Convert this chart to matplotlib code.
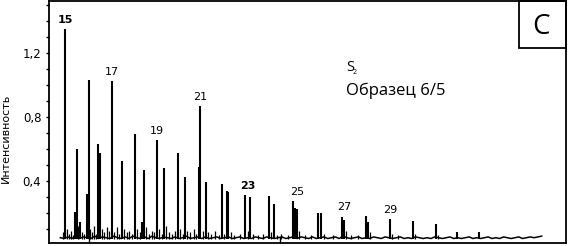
import numpy as np
import matplotlib
matplotlib.use("Agg")
import matplotlib.pyplot as plt
from matplotlib.patches import Rectangle
from matplotlib.ticker import FixedLocator, FuncFormatter

plt.rcParams['font.family'] = ['DejaVu Sans']

# ---- data (retention time, min / intensity) ----
peak_rt = [8.743, 9.267, 9.372, 9.529, 9.911, 9.984, 10.487, 10.576, 11.204,
           11.728, 12.393, 12.759, 12.864, 13.545, 13.942, 14.644, 15.010,
           15.743, 15.812, 16.110, 16.963, 17.225, 17.293, 18.152, 18.429,
           19.408, 19.670, 20.696, 20.770, 20.890, 21.974, 22.147, 23.262,
           23.335, 24.518, 24.592, 25.759, 26.948, 28.152, 29.283, 30.403]
peak_h = [1.353, 0.206, 0.600, 0.145, 0.319, 1.033, 0.632, 0.576, 1.027,
          0.526, 0.695, 0.145, 0.469, 0.657, 0.482, 0.576, 0.425,
          0.488, 0.870, 0.394, 0.382, 0.338, 0.331, 0.313, 0.302,
          0.306, 0.256, 0.277, 0.231, 0.225, 0.202, 0.202, 0.177,
          0.156, 0.183, 0.145, 0.164, 0.152, 0.131, 0.083, 0.079]

minor_rt = [8.62, 8.85, 8.95, 9.08, 9.18, 9.45, 9.62, 9.75, 10.05, 10.15,
            10.28, 10.38, 10.68, 10.80, 10.92, 11.05, 11.32, 11.45, 11.58,
            11.85, 11.98, 12.12, 12.25, 12.52, 12.65, 12.98, 13.12, 13.28,
            13.40, 13.68, 13.80, 14.05, 14.18, 14.32, 14.48, 14.78, 14.90,
            15.15, 15.30, 15.50, 15.62, 15.95, 16.25, 16.40, 16.60, 16.80,
            17.05, 17.45, 17.60, 17.90, 18.30, 18.60, 18.85, 19.10, 19.55,
            19.85, 20.05, 20.40, 20.98, 21.30, 21.60, 22.30, 22.80, 23.45,
            23.70, 24.10, 24.70, 25.85, 26.20, 27.05, 28.25]
minor_h = [0.08, 0.10, 0.07, 0.09, 0.06, 0.12, 0.08, 0.07, 0.10, 0.08,
           0.12, 0.07, 0.10, 0.08, 0.11, 0.09, 0.08, 0.11, 0.07,
           0.10, 0.08, 0.09, 0.07, 0.10, 0.08, 0.11, 0.07, 0.09,
           0.08, 0.10, 0.07, 0.12, 0.08, 0.07, 0.09, 0.10, 0.07,
           0.09, 0.08, 0.10, 0.07, 0.09, 0.08, 0.07, 0.09, 0.06,
           0.07, 0.08, 0.06, 0.07, 0.09, 0.07, 0.06, 0.07, 0.08,
           0.06, 0.07, 0.06, 0.09, 0.06, 0.06, 0.07, 0.06, 0.09,
           0.06, 0.06, 0.08, 0.07, 0.06, 0.07, 0.06]

base_start, base_end = 8.5, 33.7
base_level = [
    0.045, 0.04, 0.05, 0.04, 0.055, 0.04, 0.05, 0.045, 0.04, 0.055,
    0.04, 0.05, 0.045, 0.04, 0.055, 0.045, 0.04, 0.05, 0.04, 0.055,
    0.045, 0.04, 0.05, 0.04, 0.055, 0.045, 0.04, 0.05, 0.045, 0.04,
    0.05, 0.04, 0.045, 0.055, 0.04, 0.045, 0.05,
    0.04, 0.05, 0.04, 0.045, 0.05, 0.04, 0.045, 0.05, 0.04, 0.045,
    0.05, 0.04, 0.045, 0.04, 0.05, 0.045, 0.04, 0.05, 0.045, 0.04,
    0.045, 0.05, 0.04, 0.045,
    0.05, 0.04, 0.05, 0.045, 0.04, 0.05, 0.04, 0.045, 0.05, 0.04,
    0.045, 0.05, 0.04, 0.055, 0.045, 0.04, 0.045, 0.05, 0.04, 0.045,
    0.04, 0.05, 0.045, 0.04, 0.05, 0.045, 0.04, 0.045, 0.05, 0.04,
    0.045, 0.04, 0.05, 0.045, 0.04, 0.045, 0.04, 0.05, 0.045, 0.04,
    0.045, 0.05, 0.04, 0.045, 0.04, 0.045, 0.05, 0.04, 0.045, 0.04,
    0.045, 0.05, 0.04, 0.045, 0.04, 0.05, 0.045, 0.04, 0.045, 0.05,
    0.04, 0.045, 0.05, 0.045, 0.05, 0.055]
base_rt = np.linspace(base_start, base_end, len(base_level))

label_text = ["15", "17", "19", "21", "23", "25", "27", "29"]
label_rt = [8.743, 11.204, 13.545, 15.812, 18.29, 20.92, 23.35, 25.759]
label_top = [1.353, 1.027, 0.657, 0.870, 0.313, 0.277, 0.177, 0.164]
label_bold = [True, False, False, False, True, False, False, False]

yticks_major = [0.4, 0.8, 1.2]
yticks_minor = [0.1, 0.2, 0.3, 0.5, 0.6, 0.7, 0.9, 1.0, 1.1, 1.3, 1.4, 1.5]
xticks = [10, 20]

# ---- figure ----
W, H = 568, 246
fig = plt.figure(figsize=(W / 100, H / 100), dpi=100)
ax = fig.add_axes([49 / W, 2.7 / H, 517 / W, 242.3 / H])

ax.plot(base_rt, base_level, color='black', lw=1.1)
ax.vlines(minor_rt, 0.035, minor_h, color='black', lw=0.9)
ax.vlines(peak_rt, 0.035, peak_h, color='black', lw=1.5)

for t, x, top, b in zip(label_text, label_rt, label_top, label_bold):
    ax.annotate(t, (x, top), xytext=(0, 3), textcoords='offset points',
                ha='center', va='bottom', fontsize=8,
                fontweight='bold' if b else 'normal')

ax.set_xlim(7.906, 34.974)
ax.set_ylim(0.01, 1.528)

ax.yaxis.set_major_locator(FixedLocator(yticks_major))
ax.yaxis.set_minor_locator(FixedLocator(yticks_minor))
ax.yaxis.set_major_formatter(FuncFormatter(lambda v, p: f"{v:.1f}".replace('.', ',')))
ax.tick_params(axis='y', which='both', direction='out', length=2.5, width=1,
               labelsize=8.5, pad=3)
ax.xaxis.set_major_locator(FixedLocator(xticks))
ax.tick_params(axis='x', which='both', direction='in', length=4, width=1,
               labelbottom=False)
for s in ax.spines.values():
    s.set_linewidth(1.3)

fig.text(6 / W, 1 - 138 / H, "Интенсивность", rotation=90, ha='center',
         va='center', fontsize=8)

fam = ['Open Sans', 'DejaVu Sans']
fig.text(346 / W, 1 - 71 / H, "S", ha='left', va='baseline',
         fontsize=10.5, family=fam)
fig.text(353 / W, 1 - 74.5 / H, "2", ha='left', va='baseline',
         fontsize=5, family=fam)
fig.text(346 / W, 1 - 95 / H, "Образец 6/5", ha='left', va='baseline',
         fontsize=12, family=fam)

fig.add_artist(Rectangle((519 / W, 1 - 48 / H), 47 / W, 47 / H,
                         transform=fig.transFigure, fill=False,
                         edgecolor='black', lw=1.3))
fig.text(541.5 / W, 1 - 27 / H, "C", ha='center', va='center', fontsize=20,
         family=fam)

fig.savefig("out.png", dpi=100)
